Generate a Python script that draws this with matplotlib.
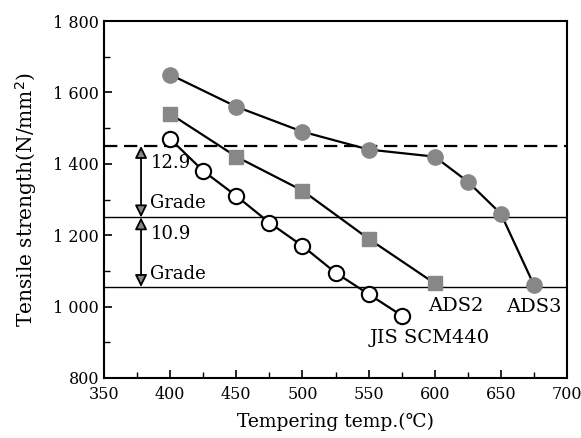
import matplotlib.pyplot as plt
from matplotlib.ticker import MultipleLocator, FuncFormatter

plt.rcParams['font.family'] = ['DejaVu Serif', 'DejaVu Sans']

# datos
temp_ads3 = [400, 450, 500, 550, 600, 625, 650, 675]
ts_ads3 = [1650, 1560, 1490, 1440, 1420, 1350, 1260, 1060]
temp_ads2 = [400, 450, 500, 550, 600]
ts_ads2 = [1540, 1420, 1325, 1190, 1065]
temp_jis = [400, 425, 450, 475, 500, 525, 550, 575]
ts_jis = [1470, 1380, 1310, 1235, 1170, 1095, 1035, 975]

grade_129 = 1450
grade_109_top = 1250
grade_109_bot = 1055

fig = plt.figure(figsize=(5.81, 4.38), dpi=100)
ax = fig.add_axes([0.179, 0.137, 0.797, 0.815])

# lineas de grado
ax.axhline(grade_129, color="black", lw=1.6, ls=(0, (6, 3)))
ax.axhline(grade_109_top, color="black", lw=1.0)
ax.axhline(grade_109_bot, color="black", lw=1.0)

grey = "#878787"
ax.plot(temp_ads3, ts_ads3, "-o", color="black", lw=1.6, ms=11, mfc=grey, mec=grey)
ax.plot(temp_ads2, ts_ads2, "-s", color="black", lw=1.6, ms=10, mfc=grey, mec=grey)
ax.plot(temp_jis, ts_jis, "-o", color="black", lw=1.6, ms=11, mfc="white", mec="black", mew=1.5)

# flechas de grado
arr_x = 378
for y0, y1 in [(grade_129, grade_109_top), (grade_109_top, grade_109_bot)]:
    ax.annotate("", xy=(arr_x, y0), xytext=(arr_x, y1),
                arrowprops=dict(arrowstyle="<|-|>", color="black", lw=1.3,
                                fc=grey, mutation_scale=18, shrinkA=0, shrinkB=0))

ax.text(385, 1402, "12.9", fontsize=13, va="center", ha="left")
ax.text(385, 1290, "Grade", fontsize=13, va="center", ha="left")
ax.text(385, 1204, "10.9", fontsize=13, va="center", ha="left")
ax.text(385, 1090, "Grade", fontsize=13, va="center", ha="left")

ax.text(616, 1002, "ADS2", fontsize=14, ha="center", va="center")
ax.text(675, 1000, "ADS3", fontsize=14, ha="center", va="center")
ax.text(551, 913, "JIS SCM440", fontsize=14, ha="left", va="center")

ax.set_xlim(350, 700)
ax.set_ylim(800, 1800)
ax.xaxis.set_major_locator(MultipleLocator(50))
ax.xaxis.set_minor_locator(MultipleLocator(25))
ax.yaxis.set_major_locator(MultipleLocator(200))
ax.yaxis.set_minor_locator(MultipleLocator(100))
ax.yaxis.set_major_formatter(FuncFormatter(
    lambda v, p: f"{int(v):,}".replace(",", " ")))
ax.tick_params(which="both", direction="in", labelsize=11.5)
ax.tick_params(axis="x", pad=6)
ax.tick_params(which="major", length=6, width=1.2)
ax.tick_params(which="minor", length=4, width=1.0)
for s in ax.spines.values():
    s.set_linewidth(1.5)

ax.set_xlabel("Tempering temp.(℃)", fontsize=13.5, labelpad=7)
ax.set_ylabel("Tensile strength(N/mm$^2$)", fontsize=14.5, labelpad=10)

fig.savefig("out.png", dpi=100)
